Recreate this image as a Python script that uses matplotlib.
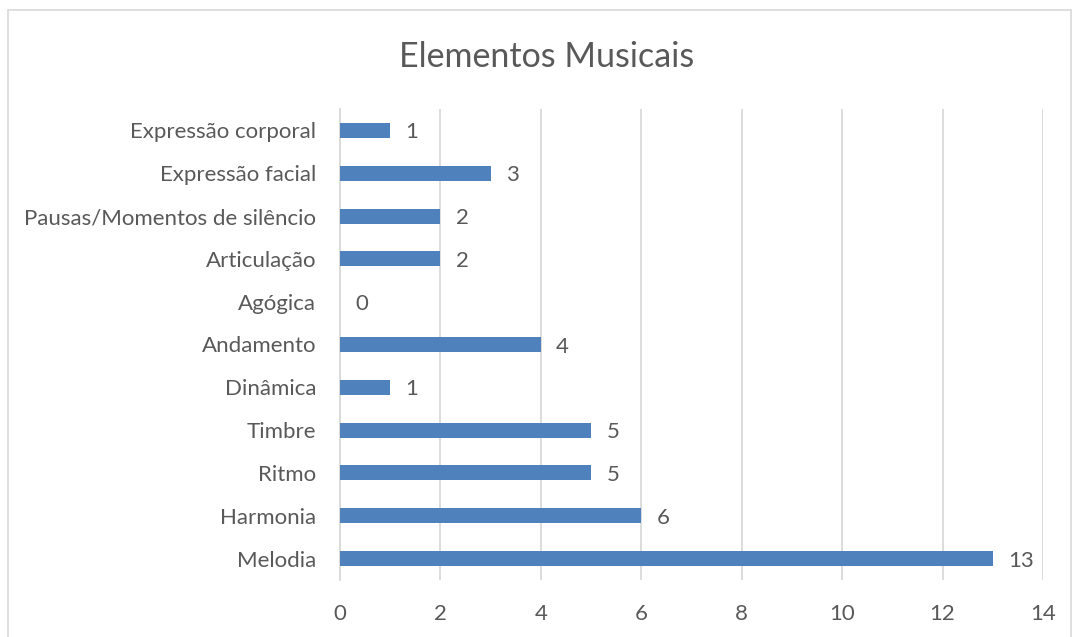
import matplotlib.pyplot as plt
from matplotlib.patches import Rectangle

categories = [
    "Melodia",
    "Harmonia",
    "Ritmo",
    "Timbre",
    "Dinâmica",
    "Andamento",
    "Agógica",
    "Articulação",
    "Pausas/Momentos de silêncio",
    "Expressão facial",
    "Expressão corporal",
]
values = [13, 6, 5, 5, 1, 4, 0, 2, 2, 3, 1]
x_ticks = [0, 2, 4, 6, 8, 10, 12, 14]

text_col = "#595959"
bar_col = "#4F81BD"
grid_col = "#D9D9D9"

plt.rcParams["font.family"] = ["Lato", "DejaVu Sans"]

fig = plt.figure(figsize=(10.72, 6.37), dpi=100)
fig.patches.append(Rectangle((8 / 1072, -0.1), 1063 / 1072, 1.1 - 10 / 637,
                             transform=fig.transFigure, fill=False,
                             edgecolor=grid_col, linewidth=1.2))

ax = fig.add_axes([340 / 1072, 1 - 580 / 637, 703 / 1072, 471 / 637])
pos = list(range(len(categories)))
ax.barh(pos, values, height=0.35, color=bar_col, zorder=3)
for p, v in zip(pos, values):
    ax.annotate(str(v), (v, p), xytext=(11, -1.5), textcoords="offset points",
                va="center", ha="left", fontsize=16, color=text_col)

ax.set_xlim(0, 14)
ax.set_ylim(-0.5, len(categories) - 0.5)
ax.set_xticks(x_ticks)
ax.set_yticks(pos)
ax.set_yticklabels(categories)
ax.tick_params(axis="both", length=0, colors=text_col, labelsize=16)
ax.tick_params(axis="x", pad=17)
ax.tick_params(axis="y", pad=17)
ax.grid(axis="x", color=grid_col, linewidth=1.3, zorder=0)
for s in ["top", "right", "bottom"]:
    ax.spines[s].set_visible(False)
ax.spines["left"].set_color(grid_col)
ax.spines["left"].set_linewidth(1.3)

fig.text(547 / 1072, 1 - 57 / 637, "Elementos Musicais", ha="center",
         va="center", fontsize=24.5, color=text_col)

fig.savefig("out.png", dpi=100)
